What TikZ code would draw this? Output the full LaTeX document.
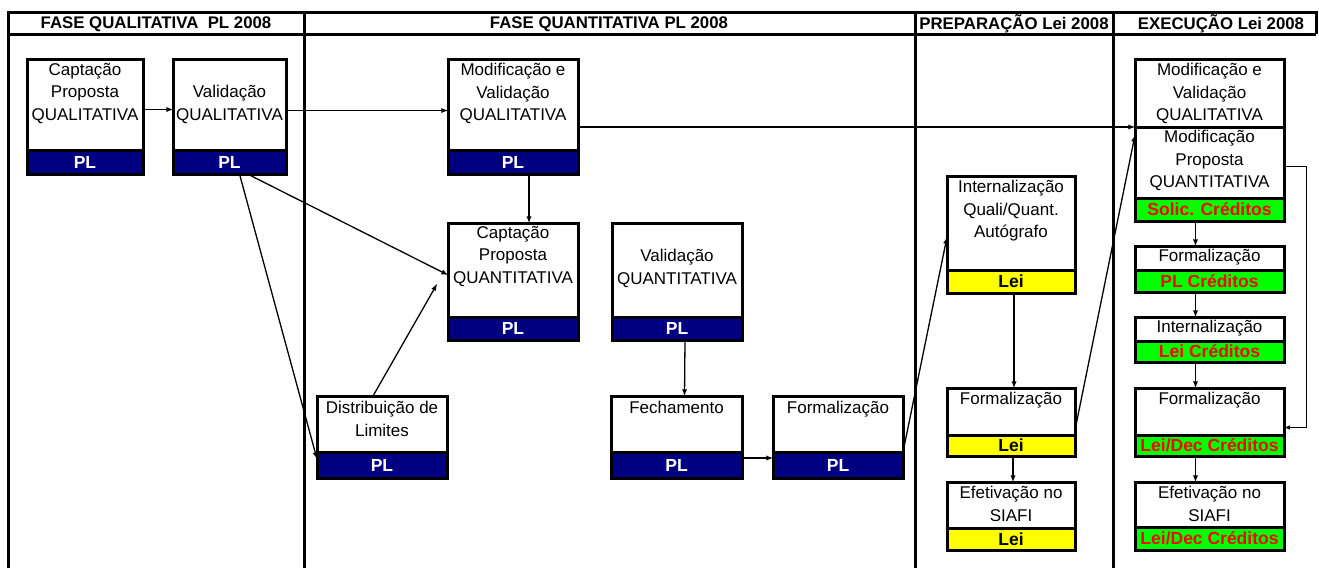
\documentclass[tikz,border=0pt]{standalone}
\usepackage{fontspec}
\setmainfont{Liberation Sans}
\usetikzlibrary{positioning}
\definecolor{azul}{RGB}{0,0,128}
\definecolor{verde}{RGB}{0,255,0}
\definecolor{amarelo}{RGB}{255,255,0}
\definecolor{vermelho}{RGB}{255,0,0}
\tikzset{
	corpo/.style={draw, line width=3pt, anchor=north west, inner sep=0pt, outer sep=0pt, fill=white},
	texto/.style={anchor=north, align=center, inner sep=0pt, font=\fontsize{17}{22.5}\selectfont},
	faixa/.style={draw, line width=3pt, anchor=north west, inner sep=0pt, outer sep=0pt, font=\fontsize{17.5}{20}\selectfont\bfseries},
	faixapl/.style={faixa, fill=azul, text=white},
	faixalei/.style={faixa, fill=amarelo, text=black},
	faixacred/.style={faixa, fill=verde, text=vermelho},
	seta/.style={-latex, line width=1.3pt},
	moldura/.style={line width=3pt},
	cabecalho/.style={font=\fontsize{16.8}{20}\selectfont\bfseries, inner sep=0pt},
}
\begin{document}
\begin{tikzpicture}[x=1pt,y=-1pt]
	\useasboundingbox (0,0) rectangle (1319,568);
	
	\draw[moldura] (8,568) -- (8,12) -- (1316,12) -- (1316,34);
	\draw[moldura] (8,34) -- (1316,34);
	\foreach \x in {304,915,1113}{
		\draw[moldura] (\x,12) -- (\x,568);
	}
	
	\node[cabecalho] (h1) at (156,24) {FASE QUALITATIVA\ \ PL 2008};
	\node[cabecalho] (h2) at (609,24) {FASE QUANTITATIVA PL 2008};
	\node[cabecalho] (h3) at (1014,24) {PREPARAÇÃO Lei 2008};
	\node[cabecalho] (h4) at (1221,24) {EXECUÇÃO Lei 2008};
	
	\node[corpo, minimum width=116pt, minimum height=91pt] (cq1) at (27,59) {};
	\node[faixapl, minimum width=116pt, minimum height=24pt] (cq1f) at (cq1.south west) {PL};
	\node[texto] (cq1t) at ([yshift=-4pt]cq1.north) {Captação\\Proposta\\QUALITATIVA};
	
	\node[corpo, minimum width=113pt, minimum height=91pt] (vq) at (173,59) {};
	\node[faixapl, minimum width=113pt, minimum height=24pt] (vqf) at (vq.south west) {PL};
	\node[texto] (vqt) at ([yshift=-26pt]vq.north) {Validação\\QUALITATIVA};
	
	\node[corpo, minimum width=130pt, minimum height=91pt] (mq) at (448,59) {};
	\node[faixapl, minimum width=130pt, minimum height=24pt] (mqf) at (mq.south west) {PL};
	\node[texto] (mqt) at ([yshift=-4pt]mq.north) {Modificação e\\Validação\\QUALITATIVA};
	
	\node[corpo, minimum width=130pt, minimum height=94pt] (cqn) at (448,223) {};
	\node[faixapl, minimum width=130pt, minimum height=23pt] (cqnf) at (cqn.south west) {PL};
	\node[texto] (cqnt) at ([yshift=-3pt]cqn.north) {Captação\\Proposta\\QUANTITATIVA};
	
	\node[corpo, minimum width=130pt, minimum height=94pt] (vqn) at (612,223) {};
	\node[faixapl, minimum width=130pt, minimum height=23pt] (vqnf) at (vqn.south west) {PL};
	\node[texto] (vqnt) at ([yshift=-26pt]vqn.north) {Validação\\QUANTITATIVA};
	
	\node[corpo, minimum width=130pt, minimum height=56pt] (dl) at (317,396) {};
	\node[faixapl, minimum width=130pt, minimum height=26pt] (dlf) at (dl.south west) {PL};
	\node[texto] (dlt) at ([yshift=-5pt]dl.north) {Distribuição de\\Limites};
	
	\node[corpo, minimum width=131pt, minimum height=56pt] (fe) at (611,396) {};
	\node[faixapl, minimum width=131pt, minimum height=26pt] (fef) at (fe.south west) {PL};
	\node[texto] (fet) at ([yshift=-5pt]fe.north) {Fechamento};
	
	\node[corpo, minimum width=130pt, minimum height=56pt] (fpl) at (773,396) {};
	\node[faixapl, minimum width=130pt, minimum height=26pt] (fplf) at (fpl.south west) {PL};
	\node[texto] (fplt) at ([yshift=-5pt]fpl.north) {Formalização};
	
	\node[corpo, minimum width=128pt, minimum height=94pt] (il) at (947,176) {};
	\node[faixalei, minimum width=128pt, minimum height=23pt] (ilf) at (il.south west) {Lei};
	\node[texto] (ilt) at ([yshift=-4pt]il.north) {Internalização\\Quali/Quant.\\Autógrafo};
	
	\node[corpo, minimum width=128pt, minimum height=47pt] (fl) at (947,388) {};
	\node[faixalei, minimum width=128pt, minimum height=21pt] (flf) at (fl.south west) {Lei};
	\node[texto] (flt) at ([yshift=-4pt]fl.north) {Formalização};
	
	\node[corpo, minimum width=128pt, minimum height=46pt] (el) at (947,482) {};
	\node[faixalei, minimum width=128pt, minimum height=22pt] (elf) at (el.south west) {Lei};
	\node[texto] (elt) at ([yshift=-4pt]el.north) {Efetivação no\\SIAFI};
	
	\node[corpo, minimum width=149pt, minimum height=68pt] (mvq) at (1135,59) {};
	\node[texto] (mvqt) at ([yshift=-4pt]mvq.north) {Modificação e\\Validação\\QUALITATIVA};
	\node[corpo, minimum width=149pt, minimum height=71pt] (mpq) at (mvq.south west) {};
	\node[faixacred, minimum width=149pt, minimum height=23pt] (mpqf) at (mpq.south west) {Solic. Créditos};
	\node[texto] (mpqt) at ([yshift=-3pt]mpq.north) {Modificação\\Proposta\\QUANTITATIVA};
	
	\node[corpo, minimum width=149pt, minimum height=24pt] (fc) at (1135,246) {};
	\node[faixacred, minimum width=149pt, minimum height=22pt] (fcf) at (fc.south west) {PL Créditos};
	\node[texto] (fct) at ([yshift=-3pt]fc.north) {Formalização};
	
	\node[corpo, minimum width=149pt, minimum height=24pt] (ic) at (1135,317) {};
	\node[faixacred, minimum width=149pt, minimum height=21pt] (icf) at (ic.south west) {Lei Créditos};
	\node[texto] (ict) at ([yshift=-3pt]ic.north) {Internalização};
	
	\node[corpo, minimum width=149pt, minimum height=47pt] (fdc) at (1135,388) {};
	\node[faixacred, minimum width=149pt, minimum height=21pt] (fdcf) at (fdc.south west) {Lei/Dec Créditos};
	\node[texto] (fdct) at ([yshift=-4pt]fdc.north) {Formalização};
	
	\node[corpo, minimum width=149pt, minimum height=45pt] (edc) at (1135,482) {};
	\node[faixacred, minimum width=149pt, minimum height=23pt] (edcf) at (edc.south west) {Lei/Dec Créditos};
	\node[texto] (edct) at ([yshift=-4pt]edc.north) {Efetivação no\\SIAFI};
	
	\draw[seta] ([yshift=-5pt]cq1.east) -- ([yshift=-5pt]vq.west);
	\draw[seta] ([yshift=-6pt]vq.east) -- ([yshift=-6pt]mq.west);
	\draw[seta] (mq.east |- mvq.south) -- (mvq.south west);
	\draw[seta] ([xshift=16pt]mqf.south) -- ([xshift=16pt]cqn.north);
	\draw[seta] ([xshift=10pt]vqf.south) -- ([yshift=6pt]dlf.west);
	\draw[seta] ([xshift=18pt]vqf.south) -- ([yshift=-5pt]cqn.west);
	\draw[seta] ([xshift=-9pt]dl.north) -- ([xshift=-11pt,yshift=-14pt]cqn.west);
	\draw[seta] ([xshift=8pt]vqnf.south) -- ([xshift=8pt]fe.north);
	\draw[seta] ([yshift=7pt]fef.east) -- ([yshift=7pt]fplf.west);
	\draw[seta] (fpl.south east) -- ([yshift=-14pt]il.west);
	\draw[seta] ([xshift=3pt]ilf.south) -- ([xshift=3pt]fl.north);
	\draw[seta] ([xshift=2pt]flf.south) -- ([xshift=2pt]el.north);
	\draw[seta] ([yshift=5pt]fl.south east) -- ([yshift=-8pt]mpq.north west);
	\foreach \a/\b in {mpqf/fc,fcf/ic,icf/fdc,fdcf/edc}{
		\draw[seta] ([xshift=-14pt]\a.south) -- ([xshift=-14pt]\b.north);
	}
	\draw[seta, line width=1pt] ([yshift=-4pt]mpq.east) -- ++(22,0) |- ([yshift=-16pt]fdc.east);
\end{tikzpicture}
\end{document}
